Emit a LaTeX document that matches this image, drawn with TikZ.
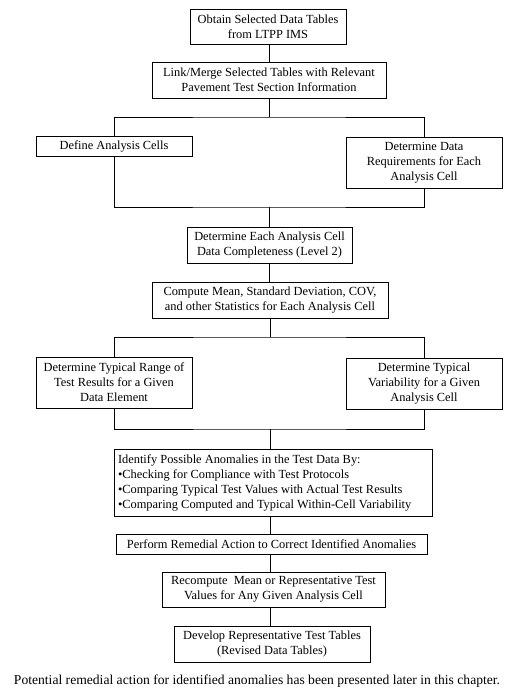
\documentclass[tikz,border=0pt]{standalone}
\usepackage{fontspec}
\setmainfont{Liberation Serif}
\begin{document}
\begin{tikzpicture}[x=1pt,y=-1pt,
  box/.style={draw, line width=0.8pt, align=center, inner sep=2pt,
    font=\fontsize{12.4}{15}\selectfont},
  line/.style={line width=0.8pt}]

\useasboundingbox (0,0) rectangle (515,700);

\node[box, minimum width=156, minimum height=35] at (268,26.5) (obtain){Obtain Selected Data Tables\\from LTPP IMS};
\node[box, minimum width=234, minimum height=36] at (269,80) (link){Link/Merge Selected Tables with Relevant\\Pavement Test Section Information};
\node[box, minimum width=156, minimum height=20] at (114,146) (define){Define Analysis Cells};
\node[box, minimum width=156, minimum height=51] at (424,162.5) (req){Determine Data\\Requirements for Each\\Analysis Cell};
\node[box, minimum width=165, minimum height=36] at (269.5,245) (complete){Determine Each Analysis Cell\\Data Completeness (Level 2)};
\node[box, minimum width=236, minimum height=36] at (270,300) (stats){Compute Mean, Standard Deviation, COV,\\and other Statistics for Each Analysis Cell};
\node[box, minimum width=156, minimum height=51] at (114,382.5) (range){Determine Typical Range of\\Test Results for a Given\\Data Element};
\node[box, minimum width=156, minimum height=51] at (424,383.5) (var){Determine Typical\\Variability for a Given\\Analysis Cell};
\node[box, align=flush left, text width=310, inner xsep=4pt, minimum height=67] at (273,482.5) (anomalies){Identify Possible Anomalies in the Test Data By:\\•Checking for Compliance with Test Protocols\\•Comparing Typical Test Values with Actual Test Results\\•Comparing Computed and Typical Within-Cell Variability};
\node[box, minimum width=311, minimum height=20] at (271.5,544) (remedial){Perform Remedial Action to Correct Identified Anomalies};
\node[box, minimum width=223, minimum height=35] at (273.5,589.5) (recompute){Recompute\ \ Mean or Representative Test\\Values for Any Given Analysis Cell};
\node[box, minimum width=196, minimum height=36] at (272,644) (develop){Develop Representative Test Tables\\(Revised Data Tables)};

\node[font=\fontsize{13.6}{15}\selectfont] at (257,681) (note){Potential remedial action for identified anomalies has been presented later in this chapter.};

\coordinate (split1) at (269,117);
\coordinate (merge1) at (269,207);
\coordinate (split2) at (270,337);
\coordinate (merge2) at (270,429);

\draw[line] (obtain.south -| split1) -- (link.north -| split1);
\draw[line] (link.south -| split1) -- (split1);
\draw[line] (define.north) |- (split1) -| (req.north);
\draw[line] (define.south) |- (merge1) -| (req.south);
\draw[line] (merge1) -- (complete.north -| merge1);
\draw[line] (complete.south -| merge1) -- (stats.north -| merge1);
\draw[line] (stats.south -| split2) -- (split2);
\draw[line] (range.north) |- (split2) -| (var.north);
\draw[line] (range.south) |- (merge2) -| (var.south);
\draw[line] (merge2) -- (anomalies.north -| merge2);
\draw[line] (anomalies.south -| merge2) -- (remedial.north -| merge2);
\draw[line] (remedial.south -| merge2) -- (recompute.north -| merge2);
\draw[line] (recompute.south -| merge2) -- (develop.north -| merge2);

\end{tikzpicture}
\end{document}
